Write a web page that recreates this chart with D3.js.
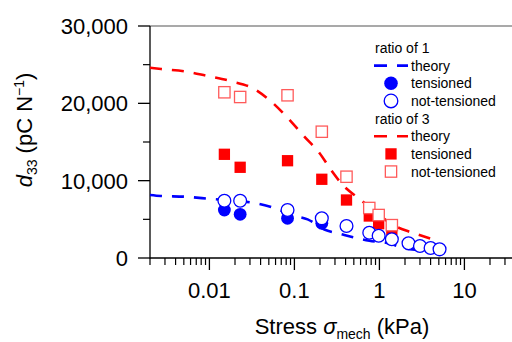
<!DOCTYPE html>
<html>
<head>
<meta charset="utf-8">
<script src="https://cdn.jsdelivr.net/npm/d3@7"></script>
<style>
  body { margin: 0; background: #fff; }
  svg { display: block; font-family: "Liberation Sans", Arial, sans-serif; }
</style>
</head>
<body>
<svg id="chart"></svg>
<script>
// ratio of 1 (blue)
const stressR1 = [0.015, 0.023, 0.083, 0.21, 0.41, 0.76, 0.98, 1.4, 2.2, 3.0, 4.0, 5.1]
const r1NotTensioned = [7410, 7410, 6210, 5130, 4140, 3270, 2880, 2420, 1900, 1550, 1290, 1120]
const stressR1Tens = [0.015, 0.023, 0.083, 0.21]
const r1Tensioned = [6210, 5650, 5130, 4490]

// ratio of 3 (red)
const stressR3 = [0.015, 0.023, 0.083, 0.21, 0.41, 0.76, 0.98, 1.4]
const r3NotTensioned = [21430, 20820, 21040, 16330, 10510, 6470, 5560, 4250]
const r3Tensioned = [13410, 11730, 12580, 10180, 7500, 5430, 4440, 3700]

// theory curves
const theoryR1Stress = [0.002, 0.0027, 0.0051, 0.0097, 0.0354, 0.0508, 0.0663, 0.103, 0.143, 0.225, 0.354, 0.464, 0.762, 1.31, 1.97, 2.96, 5.1]
const theoryR1 = [8150, 8020, 7930, 7670, 7070, 6660, 6210, 5430, 5000, 3690, 3100, 2750, 2240, 1880, 1250, 1030, 780]
const theoryR3Stress = [0.002, 0.0027, 0.0051, 0.0095, 0.0182, 0.0338, 0.0508, 0.0914, 0.131, 0.197, 0.27, 0.37, 0.57, 0.873, 1.38, 2.25, 2.96, 4.44]
const theoryR3 = [24610, 24440, 24140, 23530, 22850, 21850, 20430, 17630, 15690, 13580, 11380, 9440, 7720, 6080, 4400, 3400, 2970, 2330]

const xTicks = [0.01, 0.1, 1, 10]
const yTicks = [0, 10000, 20000, 30000]
const yMinorTicks = [5000, 15000, 25000]

const blue = '#0000ff'
const red = '#ff0000'
const lightRed = '#ff5a5a'

let w = 512
let h = 342

let svg = d3.select('#chart')
    .attr('width', w)
    .attr('height', h)

let x = d3.scaleLog([0.002, 50], [150, 150 + 85 * Math.log10(50 / 0.002)])
let y = d3.scaleLinear([0, 30000], [258, 26])

const zip = (xs, ys) => xs.map((d, i) => [d, ys[i]])

// frame top
svg.append('line')
    .attr('x1', x.range()[0]).attr('x2', x.range()[1])
    .attr('y1', y(30000)).attr('y2', y(30000))
    .attr('stroke', '#555').attr('stroke-width', 1.2)

// x axis
let xAxis = svg.append('g')
xAxis.append('line')
    .attr('x1', x.range()[0]).attr('x2', x.range()[1])
    .attr('y1', y(0)).attr('y2', y(0))
    .attr('stroke', 'black').attr('stroke-width', 1.3)

let minorX = x.ticks().filter(t => !xTicks.some(m => Math.abs(m - t) / m < 1e-6))
xAxis.selectAll('.minor')
    .data(minorX)
    .enter().append('line')
    .attr('x1', d => x(d)).attr('x2', d => x(d))
    .attr('y1', y(0)).attr('y2', y(0) + 7)
    .attr('stroke', 'black').attr('stroke-width', 1.2)

xAxis.selectAll('.major')
    .data(xTicks)
    .enter().append('line')
    .attr('x1', d => x(d)).attr('x2', d => x(d))
    .attr('y1', y(0)).attr('y2', y(0) + 12)
    .attr('stroke', 'black').attr('stroke-width', 1.3)

xAxis.selectAll('text')
    .data(xTicks)
    .enter().append('text')
    .attr('x', d => x(d))
    .attr('y', 298)
    .attr('text-anchor', 'middle')
    .attr('font-size', 22)
    .text(d => String(d))

// y axis
let yAxis = svg.append('g')
yAxis.append('line')
    .attr('x1', 150).attr('x2', 150)
    .attr('y1', y(0) + 0.6).attr('y2', y(30000))
    .attr('stroke', 'black').attr('stroke-width', 1.3)

yAxis.selectAll('.ymajor')
    .data(yTicks)
    .enter().append('line')
    .attr('x1', 138).attr('x2', 150)
    .attr('y1', d => y(d)).attr('y2', d => y(d))
    .attr('stroke', 'black').attr('stroke-width', 1.3)

yAxis.selectAll('.yminor')
    .data(yMinorTicks)
    .enter().append('line')
    .attr('x1', 143).attr('x2', 150)
    .attr('y1', d => y(d)).attr('y2', d => y(d))
    .attr('stroke', 'black').attr('stroke-width', 1.2)

yAxis.selectAll('text')
    .data(yTicks)
    .enter().append('text')
    .attr('x', 128)
    .attr('y', d => y(d) + 8)
    .attr('text-anchor', 'end')
    .attr('font-size', 22)
    .text(d => d3.format(',')(d))

// axis titles
let xTitle = svg.append('text')
    .attr('x', 342).attr('y', 334)
    .attr('text-anchor', 'middle')
    .attr('font-size', 22)
xTitle.append('tspan').text('Stress ')
xTitle.append('tspan').attr('font-style', 'italic').text('σ')
xTitle.append('tspan').attr('font-size', 14).attr('dy', 5).text('mech')
xTitle.append('tspan').attr('dy', -5).text(' (kPa)')

let yTitle = svg.append('text')
    .attr('transform', 'translate(32, 130) rotate(-90)')
    .attr('text-anchor', 'middle')
    .attr('font-size', 22)
yTitle.append('tspan').attr('font-style', 'italic').text('d')
yTitle.append('tspan').attr('font-size', 14).attr('dy', 5).text('33')
yTitle.append('tspan').attr('dy', -5).text(' (pC N')
yTitle.append('tspan').attr('font-size', 14).attr('dy', -8).text('−1')
yTitle.append('tspan').attr('dy', 8).text(')')

// plot
let plot = svg.append('g')

let line = d3.line()
    .x(d => x(d[0]))
    .y(d => y(d[1]))
    .curve(d3.curveMonotoneX)

plot.append('path')
    .datum(zip(theoryR3Stress, theoryR3))
    .attr('d', line)
    .attr('fill', 'none')
    .attr('stroke', red)
    .attr('stroke-width', 2.6)
    .attr('stroke-dasharray', '12,10')

plot.append('path')
    .datum(zip(theoryR1Stress, theoryR1))
    .attr('d', line)
    .attr('fill', 'none')
    .attr('stroke', blue)
    .attr('stroke-width', 2.6)
    .attr('stroke-dasharray', '12,10')

const sq = 11.3
const rad = 6.4

plot.selectAll('.r3t')
    .data(zip(stressR3, r3Tensioned))
    .enter().append('rect')
    .attr('x', d => x(d[0]) - sq / 2)
    .attr('y', d => y(d[1]) - sq / 2)
    .attr('width', sq).attr('height', sq)
    .attr('fill', red)

plot.selectAll('.r3n')
    .data(zip(stressR3, r3NotTensioned))
    .enter().append('rect')
    .attr('x', d => x(d[0]) - sq / 2)
    .attr('y', d => y(d[1]) - sq / 2)
    .attr('width', sq).attr('height', sq)
    .attr('fill', 'white')
    .attr('stroke', lightRed)
    .attr('stroke-width', 1.3)

plot.selectAll('.r1t')
    .data(zip(stressR1Tens, r1Tensioned))
    .enter().append('circle')
    .attr('cx', d => x(d[0]))
    .attr('cy', d => y(d[1]))
    .attr('r', rad)
    .attr('fill', blue)

plot.selectAll('.r1n')
    .data(zip(stressR1, r1NotTensioned))
    .enter().append('circle')
    .attr('cx', d => x(d[0]))
    .attr('cy', d => y(d[1]))
    .attr('r', rad)
    .attr('fill', 'white')
    .attr('stroke', blue)
    .attr('stroke-width', 1.3)

// legend
const legendRows = [
    {label: 'ratio of 1', kind: 'title'},
    {label: 'theory', kind: 'line', color: blue},
    {label: 'tensioned', kind: 'dot', color: blue},
    {label: 'not-tensioned', kind: 'ring', color: blue},
    {label: 'ratio of 3', kind: 'title'},
    {label: 'theory', kind: 'line', color: red},
    {label: 'tensioned', kind: 'square', color: red},
    {label: 'not-tensioned', kind: 'box', color: lightRed}
]

let legend = svg.append('g')
    .attr('font-size', 14)
    .selectAll('g')
    .data(legendRows)
    .enter().append('g')
    .attr('transform', (d, i) => `translate(0, ${53 + i * 17.65})`)

legend.append('text')
    .attr('x', d => d.kind == 'title' ? 375 : 411)
    .text(d => d.label)

legend.filter(d => d.kind == 'line').append('path')
    .attr('d', 'M374,-5H408')
    .attr('stroke', d => d.color)
    .attr('stroke-width', 2.6)
    .attr('stroke-dasharray', '13,10')

legend.filter(d => d.kind == 'dot' || d.kind == 'ring').append('circle')
    .attr('cx', 391).attr('cy', -5)
    .attr('r', 6.8)
    .attr('fill', d => d.kind == 'dot' ? d.color : 'white')
    .attr('stroke', d => d.kind == 'ring' ? d.color : 'none')
    .attr('stroke-width', 1.3)

legend.filter(d => d.kind == 'square' || d.kind == 'box').append('rect')
    .attr('x', 391 - sq / 2).attr('y', -5 - sq / 2)
    .attr('width', sq).attr('height', sq)
    .attr('fill', d => d.kind == 'square' ? d.color : 'white')
    .attr('stroke', d => d.kind == 'box' ? d.color : 'none')
    .attr('stroke-width', 1.3)
</script>
</body>
</html>
